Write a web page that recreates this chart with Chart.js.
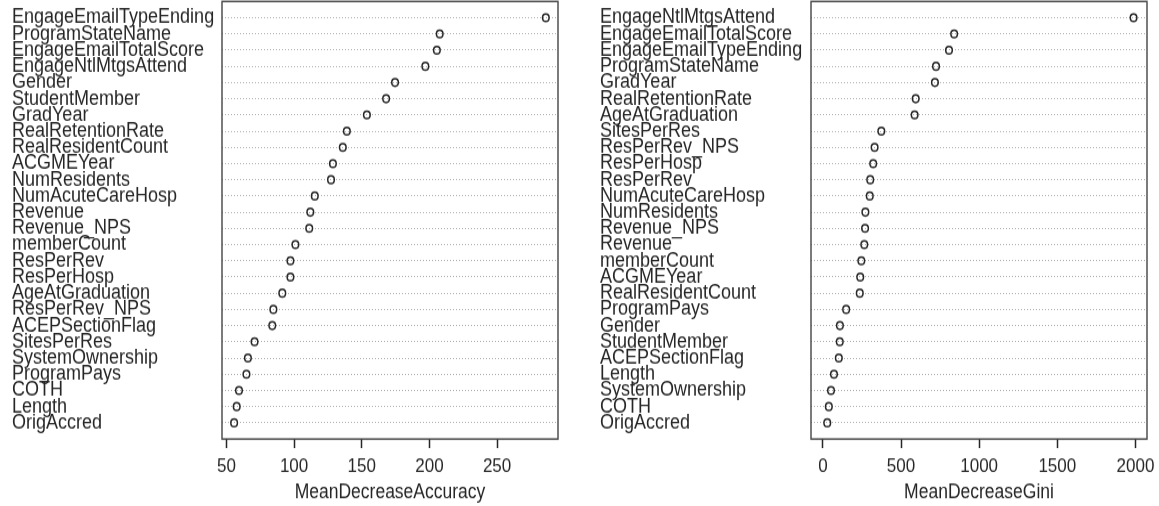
<!DOCTYPE html>
<html>
<head>
<meta charset="utf-8">
<script src="https://cdn.jsdelivr.net/npm/chart.js@4"></script>
<style>
  body { margin: 0; background: #fff; }
  #wrap { position: relative; width: 1159px; height: 506px; overflow: hidden; }
  /* the reference is a little stretched vertically, so draw short and scale up */
  canvas { position: absolute; top: 0; transform: scaleY(1.14); transform-origin: 0 0; }
  #accChart { left: 0; }
  #giniChart { left: 580px; }
</style>
</head>
<body>
<div id="wrap">
  <canvas id="accChart" width="580" height="444"></canvas>
  <canvas id="giniChart" width="579" height="444"></canvas>
</div>
<script>
// variable importance, top row first
const accLabels = ['EngageEmailTypeEnding', 'ProgramStateName', 'EngageEmailTotalScore', 'EngageNtlMtgsAttend',
  'Gender', 'StudentMember', 'GradYear', 'RealRetentionRate', 'RealResidentCount', 'ACGMEYear', 'NumResidents',
  'NumAcuteCareHosp', 'Revenue', 'Revenue_NPS', 'memberCount', 'ResPerRev', 'ResPerHosp', 'AgeAtGraduation',
  'ResPerRev_NPS', 'ACEPSectionFlag', 'SitesPerRes', 'SystemOwnership', 'ProgramPays', 'COTH', 'Length', 'OrigAccred'];
const accValues = [286, 207.6, 205.5, 197, 174.6, 168, 153.8, 139, 136, 128.7, 127.3,
  115.3, 112, 111.2, 101, 97.3, 97.3, 91.3, 84.7, 83.9, 70.8, 65.9, 64.8, 59.3, 57.6, 55.7];
const accTicks = [50, 100, 150, 200, 250];

const giniLabels = ['EngageNtlMtgsAttend', 'EngageEmailTotalScore', 'EngageEmailTypeEnding', 'ProgramStateName',
  'GradYear', 'RealRetentionRate', 'AgeAtGraduation', 'SitesPerRes', 'ResPerRev_NPS', 'ResPerHosp', 'ResPerRev',
  'NumAcuteCareHosp', 'NumResidents', 'Revenue_NPS', 'Revenue', 'memberCount', 'ACGMEYear', 'RealResidentCount',
  'ProgramPays', 'Gender', 'StudentMember', 'ACEPSectionFlag', 'Length', 'SystemOwnership', 'COTH', 'OrigAccred'];
const giniValues = [1988, 840, 807, 724, 717, 594, 587, 374, 331, 322, 303,
  300, 272, 270, 265, 246, 239, 236, 149, 109, 108, 102, 71, 52, 38, 28];
const giniTicks = [0, 500, 1000, 1500, 2000];

const FONT = "'Liberation Sans', Arial, sans-serif";
const INK = '#262626';

// R style box round the plot area
const boxPlugin = {
  id: 'rbox',
  afterDraw(chart) {
    const a = chart.chartArea, ctx = chart.ctx;
    ctx.save();
    ctx.strokeStyle = '#444';
    ctx.lineWidth = 1.4;
    ctx.strokeRect(a.left, a.top, a.right - a.left, a.bottom - a.top);
    ctx.restore();
  }
};

function dotChart(id, labels, values, ticks, xMin, xMax, title, pad, yWidth) {
  const rows = labels.map((_, i) => i + 1);
  return new Chart(document.getElementById(id), {
    type: 'scatter',
    data: {
      datasets: [{
        data: values.map((v, i) => ({ x: v, y: rows[i] })),
        pointRadius: 3.3,
        pointBorderWidth: 1.5,
        pointBorderColor: INK,
        pointBackgroundColor: 'rgba(0,0,0,0)',
        showLine: false
      }]
    },
    options: {
      responsive: false,
      animation: false,
      events: [],
      layout: { padding: pad, autoPadding: false },
      plugins: { legend: { display: false }, tooltip: { enabled: false } },
      scales: {
        x: {
          type: 'linear',
          min: xMin,
          max: xMax,
          afterBuildTicks: s => { s.ticks = ticks.map(v => ({ value: v })); },
          afterFit: s => { s.height = 58.9; s.paddingLeft = 0; s.paddingRight = 0; },
          border: { display: false },
          grid: { drawOnChartArea: false, drawTicks: true, tickLength: 7.9, tickColor: INK, tickWidth: 1.5 },
          ticks: {
            autoSkip: false, maxRotation: 0, padding: 5.8, color: INK,
            font: { family: FONT, size: 17 },
            callback: v => String(v)
          },
          title: { display: true, text: title, color: INK, padding: { top: 0, bottom: 1 }, font: { family: FONT, size: 17.5 } }
        },
        y: {
          type: 'linear',
          min: 0,
          max: labels.length + 1,
          reverse: true,
          afterBuildTicks: s => { s.ticks = rows.map(v => ({ value: v })); },
          afterFit: s => { s.width = yWidth; s.paddingTop = 0; s.paddingBottom = 0; },
          border: { display: false, dash: [1, 2] },
          grid: { drawTicks: false, color: '#b0b0b0', lineWidth: 1 },
          ticks: {
            autoSkip: false,
            crossAlign: 'far',
            color: INK,
            font: { family: FONT, size: 18 },
            callback: v => labels[v - 1]
          }
        }
      }
    },
    plugins: [boxPlugin]
  });
}

dotChart('accChart', accLabels, accValues, accTicks, 46.75, 295, 'MeanDecreaseAccuracy',
  { left: 12, right: 22, top: 1.3, bottom: 0 }, 210);
dotChart('giniChart', giniLabels, giniValues, giniTicks, -76, 2074, 'MeanDecreaseGini',
  { left: 20, right: 12, top: 1.3, bottom: 0 }, 211);
</script>
</body>
</html>
